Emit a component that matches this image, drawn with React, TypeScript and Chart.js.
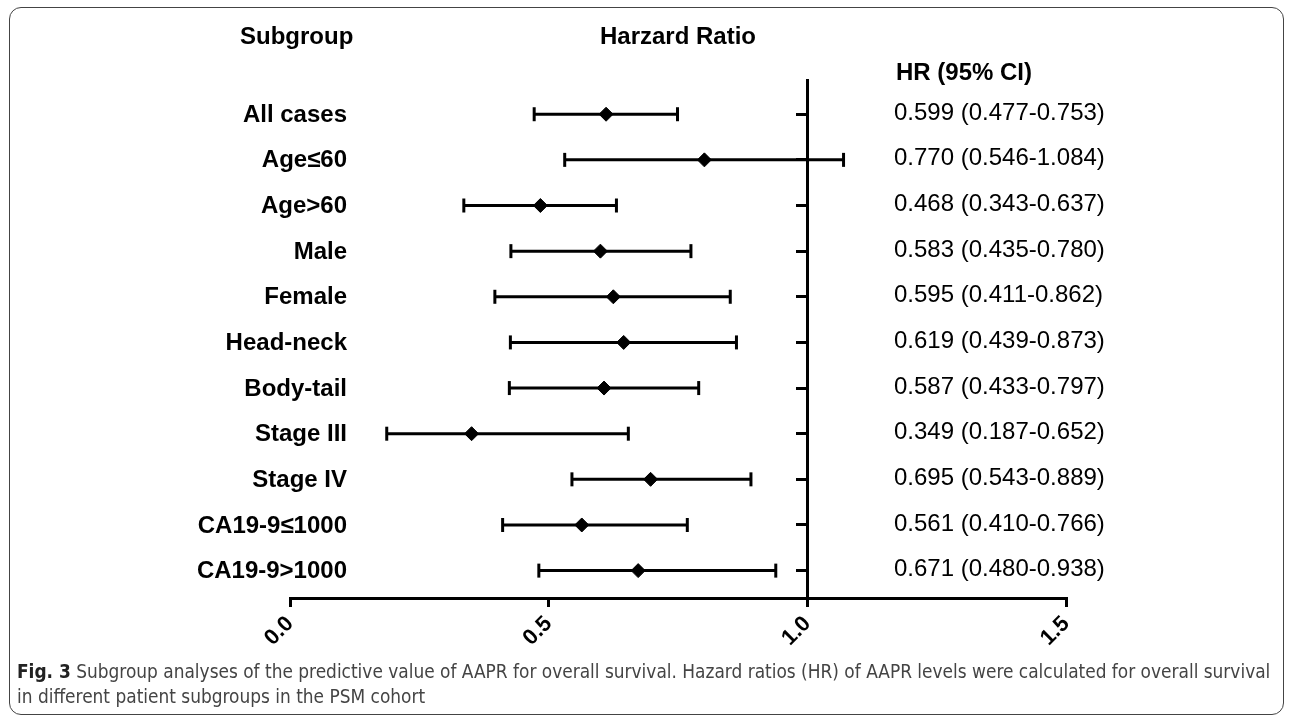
import { useEffect, useRef } from "react";
import { Chart, registerables } from "chart.js";

Chart.register(...registerables);

// ---- data ----
const subgroups = [
  "All cases",
  "Age≤60",
  "Age>60",
  "Male",
  "Female",
  "Head-neck",
  "Body-tail",
  "Stage III",
  "Stage IV",
  "CA19-9≤1000",
  "CA19-9>1000",
];
const hrPoint = [0.611, 0.801, 0.484, 0.6, 0.625, 0.645, 0.607, 0.351, 0.697, 0.564, 0.673];
const ciLow = [0.472, 0.531, 0.336, 0.427, 0.396, 0.426, 0.424, 0.187, 0.545, 0.411, 0.481];
const ciHigh = [0.749, 1.07, 0.631, 0.775, 0.851, 0.863, 0.79, 0.654, 0.891, 0.768, 0.939];
const hrText = [
  "0.599 (0.477-0.753)",
  "0.770 (0.546-1.084)",
  "0.468 (0.343-0.637)",
  "0.583 (0.435-0.780)",
  "0.595 (0.411-0.862)",
  "0.619 (0.439-0.873)",
  "0.587 (0.433-0.797)",
  "0.349 (0.187-0.652)",
  "0.695 (0.543-0.889)",
  "0.561 (0.410-0.766)",
  "0.671 (0.480-0.938)",
];
const xTicks = [0, 0.5, 1.0, 1.5];
const refLine = 1.0;

const FONT = "'Liberation Sans', Arial, Helvetica, sans-serif";

const textPlugin = {
  id: "forestText",
  afterDraw(chart: any) {
    const ctx = chart.ctx;
    const ys = chart.scales.y;
    ctx.save();
    ctx.fillStyle = "#000";
    ctx.textBaseline = "middle";
    // headers
    ctx.font = `bold 24px ${FONT}`;
    ctx.textAlign = "left";
    ctx.fillText("Subgroup", 240, 37);
    ctx.textAlign = "center";
    ctx.fillText("Harzard Ratio", 678, 37);
    ctx.textAlign = "left";
    ctx.fillText("HR (95% CI)", 896, 73);
    // rows
    subgroups.forEach((s, i) => {
      const y = ys.getPixelForValue(i);
      ctx.font = `bold 24px ${FONT}`;
      ctx.textAlign = "right";
      ctx.fillText(s, 347, y + 1);
      ctx.font = `24px ${FONT}`;
      ctx.textAlign = "left";
      ctx.fillText(hrText[i], 894, y - 1);
    });
    ctx.restore();
  },
};

export default function App() {
  const ref = useRef<HTMLCanvasElement | null>(null);
  useEffect(() => {
    if (!ref.current) return;
    const whiskers = subgroups.map((_, i) => ({
      label: "ci-" + i,
      data: [
        { x: ciLow[i], y: i },
        { x: ciHigh[i], y: i },
      ],
      showLine: true,
      borderColor: "#000",
      borderWidth: 3,
      pointStyle: "line",
      rotation: 90,
      pointRadius: 7,
      pointBorderWidth: 3,
      pointBorderColor: "#000",
      pointBackgroundColor: "#000",
      pointHoverRadius: 7,
    }));
    const diamonds = {
      label: "HR",
      data: hrPoint.map((v, i) => ({ x: v, y: i })),
      showLine: false,
      pointStyle: "rectRot",
      pointRadius: 7,
      pointBorderWidth: 1,
      pointBackgroundColor: "#000",
      pointBorderColor: "#000",
      backgroundColor: "#000",
      borderColor: "#000",
    };
    const chart = new Chart(ref.current, {
      type: "scatter",
      data: { datasets: [diamonds as any, ...(whiskers as any)] },
      options: {
        animation: false,
        responsive: false,
        maintainAspectRatio: false,
        layout: { padding: { left: 290, right: 226, top: 80, bottom: 12 } },
        plugins: { legend: { display: false }, tooltip: { enabled: false } },
        scales: {
          x: {
            type: "linear",
            position: "bottom",
            min: 0,
            max: 1.5,
            afterBuildTicks: (s: any) => {
              s.ticks = xTicks.map((v) => ({ value: v }));
            },
            afterFit: (s: any) => {
              s.height = 50;
            },
            border: { display: true, color: "#000", width: 3 },
            grid: {
              display: true,
              drawOnChartArea: false,
              drawTicks: true,
              tickLength: 9,
              color: "#000",
              lineWidth: 3,
            },
            ticks: {
              color: "#000",
              font: { family: FONT, size: 22, weight: "bold" },
              minRotation: 45,
              maxRotation: 45,
              padding: 4,
              callback: (v: any) => Number(v).toFixed(1),
            },
          },
          y: {
            type: "linear",
            position: { x: refLine } as any,
            reverse: true,
            min: -0.75,
            max: 10.6,
            afterBuildTicks: (s: any) => {
              s.ticks = subgroups.map((_, i) => ({ value: i }));
            },
            border: { display: true, color: "#000", width: 3 },
            grid: {
              display: true,
              drawOnChartArea: false,
              drawTicks: true,
              tickLength: 10,
              color: "#000",
              lineWidth: 3,
            },
            ticks: { display: false },
          },
        },
      },
      plugins: [textPlugin],
    });
    return () => chart.destroy();
  }, []);

  return (
    <div style={{ position: "absolute", left: 0, top: 0, width: 1292, height: 717, background: "#fff", overflow: "hidden" }}>
      <div
        style={{
          position: "absolute",
          left: 9,
          top: 7,
          width: 1275,
          height: 708,
          border: "1.5px solid #444",
          borderRadius: 12,
          boxSizing: "border-box",
        }}
      />
      <canvas ref={ref} width={1292} height={660} style={{ position: "absolute", left: 0, top: 0, width: 1292, height: 660 }} />
      <div
        style={{
          position: "absolute",
          left: 17,
          top: 659,
          fontFamily: "'Liberation Sans Narrow', 'DejaVu Sans Condensed', 'Liberation Sans', sans-serif",
          fontSize: 18.9,
          lineHeight: "25px",
          color: "#444",
          whiteSpace: "nowrap",
        }}
      >
        <span style={{ fontWeight: "bold", color: "#222" }}>Fig. 3</span> Subgroup analyses of the predictive value of AAPR for overall survival. Hazard ratios (HR) of AAPR levels were calculated for overall survival
        <br />
        in different patient subgroups in the PSM cohort
      </div>
    </div>
  );
}
